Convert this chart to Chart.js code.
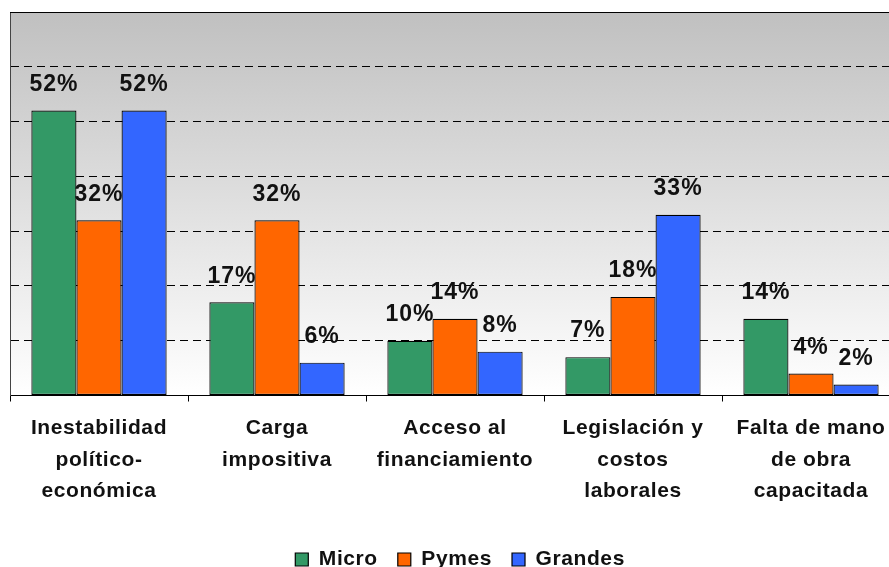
<!DOCTYPE html>
<html>
<head>
<meta charset="utf-8">
<script src="https://cdn.jsdelivr.net/npm/chart.js@4.4.1/dist/chart.umd.min.js"></script>
<style>
  html, body { margin: 0; padding: 0; background: #fff; overflow: hidden; }
  #wrap { width: 889px; height: 567px; overflow: hidden; }
</style>
</head>
<body>
<div id="wrap"><canvas id="myChart" width="900" height="580"></canvas></div>
<script>
// categorias (eje x), cada una partida en renglones
var categorias = [
  ["Inestabilidad", "político-", "económica"],
  ["Carga", "impositiva"],
  ["Acceso al", "financiamiento"],
  ["Legislación y", "costos", "laborales"],
  ["Falta de mano", "de obra", "capacitada"]
];
var micro = [52, 17, 10, 7, 14];
var pymes = [32, 32, 14, 18, 4];
var grandes = [52, 6, 8, 33, 2];
var yTicks = [0, 10, 20, 30, 40, 50, 60, 70];

var fuente = "'Liberation Sans', Arial, sans-serif";

// fondo degradado del area de trazado
var fondo = {
  id: "fondo",
  beforeDraw: function (chart) {
    var a = chart.chartArea, c = chart.ctx;
    c.letterSpacing = "0.6px";
    var g = c.createLinearGradient(0, a.top, 0, a.bottom);
    g.addColorStop(0, "#c0c0c0");
    g.addColorStop(1, "#ffffff");
    c.save();
    c.fillStyle = g;
    c.fillRect(a.left, a.top, a.right - a.left, a.bottom - a.top);
    c.restore();
  },
  afterDraw: function (chart) {
    var a = chart.chartArea, c = chart.ctx;
    c.save();
    c.strokeStyle = "#000";
    c.lineWidth = 1;
    c.beginPath();
    c.moveTo(a.left, a.top + 0.5);
    c.lineTo(a.right, a.top + 0.5);
    c.stroke();
    c.restore();
  }
};

// etiquetas de valor encima de cada barra
var etiquetas = {
  id: "etiquetas",
  afterDatasetsDraw: function (chart) {
    var c = chart.ctx;
    c.save();
    c.font = "bold 23px " + fuente;
    c.letterSpacing = "1px";
    c.fillStyle = "#111";
    c.textAlign = "center";
    c.textBaseline = "middle";
    chart.data.datasets.forEach(function (ds, i) {
      chart.getDatasetMeta(i).data.forEach(function (bar, j) {
        c.fillText(ds.data[j] + "%", bar.x, bar.y - 26);
      });
    });
    c.restore();
  }
};

var ctx = document.getElementById("myChart").getContext("2d");
var myChart = new Chart(ctx, {
  type: "bar",
  data: {
    labels: categorias,
    datasets: [
      { label: "Micro", data: micro, backgroundColor: "#339966" },
      { label: "Pymes", data: pymes, backgroundColor: "#ff6600" },
      { label: "Grandes", data: grandes, backgroundColor: "#3366ff" }
    ]
  },
  options: {
    responsive: false,
    animation: false,
    layout: { padding: { left: 10, top: 12, right: 0, bottom: 0 } },
    datasets: {
      bar: {
        barPercentage: 1,
        categoryPercentage: 0.76,
        borderWidth: 1.2,
        borderColor: "#000",
        borderSkipped: false
      }
    },
    scales: {
      x: {
        grid: { display: true, drawOnChartArea: false, color: "#000", tickLength: 6, offset: true },
        border: { color: "#000" },
        afterFit: function (s) { s.height += 11; },
        ticks: {
          color: "#111",
          padding: 11,
          font: { family: fuente, size: 21, weight: "bold", lineHeight: 1.5 }
        }
      },
      y: {
        min: 0,
        max: 70,
        afterBuildTicks: function (s) { s.ticks = yTicks.map(function (v) { return { value: v }; }); },
        grid: { color: "#000", drawTicks: false, tickLength: 0 },
        border: { display: true, color: "#444", dash: [8, 5] },
        ticks: { display: false }
      }
    },
    plugins: {
      tooltip: { enabled: false },
      legend: {
        position: "bottom",
        labels: {
          boxWidth: 13,
          boxHeight: 13,
          padding: 20,
          color: "#111",
          font: { family: fuente, size: 21, weight: "bold" }
        }
      }
    }
  },
  plugins: [fondo, etiquetas]
});
</script>
</body>
</html>
